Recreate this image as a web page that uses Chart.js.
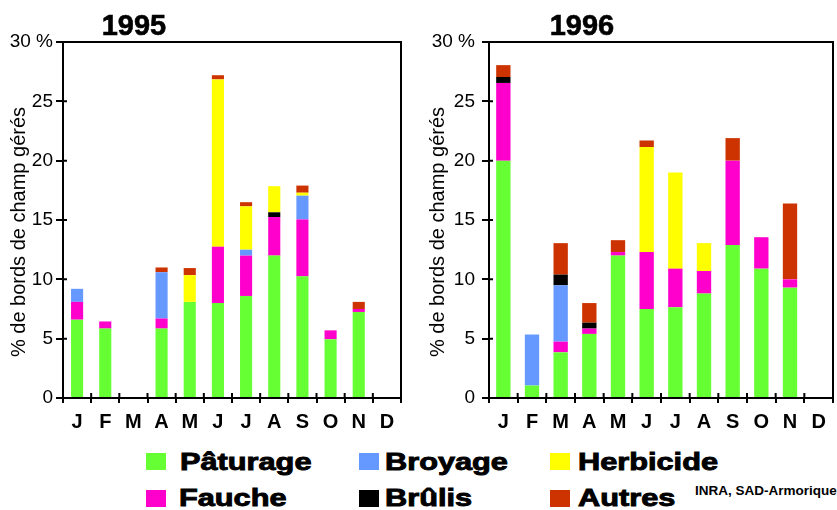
<!DOCTYPE html>
<html><head><meta charset="utf-8">
<script src="https://cdn.jsdelivr.net/npm/chart.js@4.4.1/dist/chart.umd.min.js"></script>
<style>
body{margin:0;background:#fff;}
#wrap{position:relative;width:837px;height:510px;overflow:hidden;background:#fff;font-family:"Liberation Sans",Arial,sans-serif;color:#000;}
canvas{position:absolute;top:0;}
.title{position:absolute;width:200px;text-align:center;font-weight:bold;font-size:29px;line-height:29px;top:10.5px;-webkit-text-stroke:0.6px #000;}
.ytitle{position:absolute;width:300px;text-align:center;font-size:20px;line-height:20px;transform:rotate(-90deg);transform-origin:50% 50%;white-space:nowrap;}
.sq{position:absolute;width:20px;height:17px;}
.lt{position:absolute;font-weight:bold;font-size:24px;line-height:24px;white-space:nowrap;transform:scaleX(1.28);transform-origin:0 0;-webkit-text-stroke:0.9px #000;}
.src{position:absolute;font-weight:bold;font-size:13.5px;line-height:14px;white-space:nowrap;}
</style></head>
<body>
<div id="wrap">
<canvas id="c95" width="420" height="440" style="left:0"></canvas>
<canvas id="c96" width="417" height="440" style="left:420px"></canvas>
<div class="title" style="left:34px">1995</div>
<div class="title" style="left:482px">1996</div>
<div class="ytitle" style="left:-132px;top:222px">% de bords de champ gérés</div>
<div class="ytitle" style="left:286.5px;top:222px">% de bords de champ gérés</div>
<div id="legend"></div>
<div class="src" style="left:695px;top:483.6px">INRA, SAD-Armorique</div>
</div>
<script>
const months = ['J','F','M','A','M','J','J','A','S','O','N','D'];
const seriesNames = ['Pâturage','Fauche','Broyage','Brûlis','Herbicide','Autres'];
const seriesColors = ['#66FF33','#FF00CC','#6699FF','#000000','#FFFF00','#CC3300'];
const yTicks = [0,5,10,15,20,25,30];

// 1995
const paturage95  = [6.6, 5.85, 0, 5.85, 8.1, 8.0, 8.6, 12.0, 10.25, 4.95, 7.25, 0];
const fauche95    = [1.5, 0.6, 0, 0.85, 0, 4.75, 3.4, 3.25, 4.8, 0.75, 0.25, 0];
const broyage95   = [1.1, 0, 0, 3.9, 0, 0, 0.5, 0, 2.0, 0, 0, 0];
const brulis95    = [0, 0, 0, 0, 0, 0, 0, 0.4, 0, 0, 0, 0];
const herbicide95 = [0, 0, 0, 0, 2.25, 14.1, 3.65, 2.2, 0.25, 0, 0, 0];
const autres95    = [0, 0, 0, 0.4, 0.6, 0.35, 0.35, 0, 0.6, 0, 0.6, 0];

// 1996
const paturage96  = [20.0, 1.05, 3.85, 5.4, 12.0, 7.5, 7.65, 8.8, 12.9, 10.9, 9.3, 0];
const fauche96    = [6.55, 0, 0.9, 0.45, 0.3, 4.8, 3.25, 1.9, 7.1, 2.65, 0.7, 0];
const broyage96   = [0, 4.3, 4.75, 0, 0, 0, 0, 0, 0, 0, 0, 0];
const brulis96    = [0.5, 0, 0.9, 0.5, 0, 0, 0, 0, 0, 0, 0, 0];
const herbicide96 = [0, 0, 0, 0, 0, 8.85, 8.1, 2.35, 0, 0, 0, 0];
const autres96    = [1.0, 0, 2.65, 1.65, 1.0, 0.55, 0, 0, 1.9, 0, 6.4, 0];

Chart.defaults.font.family = "'Liberation Sans', Arial, sans-serif";
Chart.defaults.color = '#000';

const framePlugin = {
  id: 'frame',
  afterDraw(chart) {
    const a = chart.chartArea, ctx = chart.ctx;
    const xs = chart.scales.x, ys = chart.scales.y;
    ctx.save();
    ctx.strokeStyle = '#000';
    ctx.lineWidth = 2;
    ctx.beginPath();
    ctx.moveTo(a.left, a.top);
    ctx.lineTo(a.right, a.top);
    ctx.lineTo(a.right, a.bottom);
    // inner part of the crossing tick marks
    yTicks.forEach(v => {
      const py = ys.getPixelForValue(v);
      ctx.moveTo(a.left, py); ctx.lineTo(a.left + 4, py);
    });
    const half = (xs.getPixelForValue(1) - xs.getPixelForValue(0)) / 2;
    for (let i = 0; i <= months.length; i++) {
      const px = xs.getPixelForValue(i) - half;
      ctx.moveTo(px, a.bottom); ctx.lineTo(px, a.bottom - 5);
    }
    ctx.stroke();
    ctx.restore();
  }
};

function build(id, values, axisW, padRight, tickPad, barPct) {
  new Chart(document.getElementById(id), {
    type: 'bar',
    data: {
      labels: months,
      datasets: seriesNames.map((n, i) => ({
        label: n, data: values[i], backgroundColor: seriesColors[i],
        borderWidth: 0, barPercentage: barPct, categoryPercentage: 1
      }))
    },
    options: {
      responsive: false, animation: false, devicePixelRatio: 1,
      layout: { padding: { top: 42, right: padRight, left: 0, bottom: 0 } },
      plugins: { legend: { display: false }, tooltip: { enabled: false }, title: { display: false } },
      scales: {
        x: {
          stacked: true,
          grid: { drawOnChartArea: false, tickLength: 5, color: '#000', lineWidth: 2 },
          border: { color: '#000', width: 2 },
          ticks: { color: '#000', font: { size: 20, weight: 'bold' }, padding: 7, maxRotation: 0, autoSkip: false },
          afterFit(s) { s.height = 42; }
        },
        y: {
          stacked: true, min: 0, max: 30,
          afterBuildTicks(s) { s.ticks = yTicks.map(v => ({ value: v })); },
          grid: { drawOnChartArea: false, tickLength: 7, color: '#000', lineWidth: 2 },
          border: { color: '#000', width: 2 },
          ticks: { color: '#000', font: { size: 19 }, padding: tickPad, callback: v => v === 30 ? '30 %' : String(v) },
          afterFit(s) { s.width = axisW; }
        }
      }
    },
    plugins: [framePlugin]
  });
}

build('c95', [paturage95, fauche95, broyage95, brulis95, herbicide95, autres95], 63, 19, 3, 0.43);
build('c96', [paturage96, fauche96, broyage96, brulis96, herbicide96, autres96], 69, 4, 7, 0.5);

// legend (HTML)
const legendOrder = [[0, 146, 453, 180, 450.4], [2, 359, 453, 385, 450.4], [4, 550, 453, 578, 450.4],
                     [1, 146, 490, 179, 486.2], [3, 359, 490, 385, 486.2], [5, 550, 490, 578, 486.2]];
const lg = document.getElementById('legend');
legendOrder.forEach(([i, sx, sy, tx, ty]) => {
  const s = document.createElement('div');
  s.className = 'sq';
  s.style.left = sx + 'px'; s.style.top = sy + 'px';
  s.style.background = seriesColors[i];
  lg.appendChild(s);
  const t = document.createElement('div');
  t.className = 'lt';
  t.style.left = tx + 'px'; t.style.top = ty + 'px';
  t.textContent = seriesNames[i];
  lg.appendChild(t);
});
</script>
</body></html>
